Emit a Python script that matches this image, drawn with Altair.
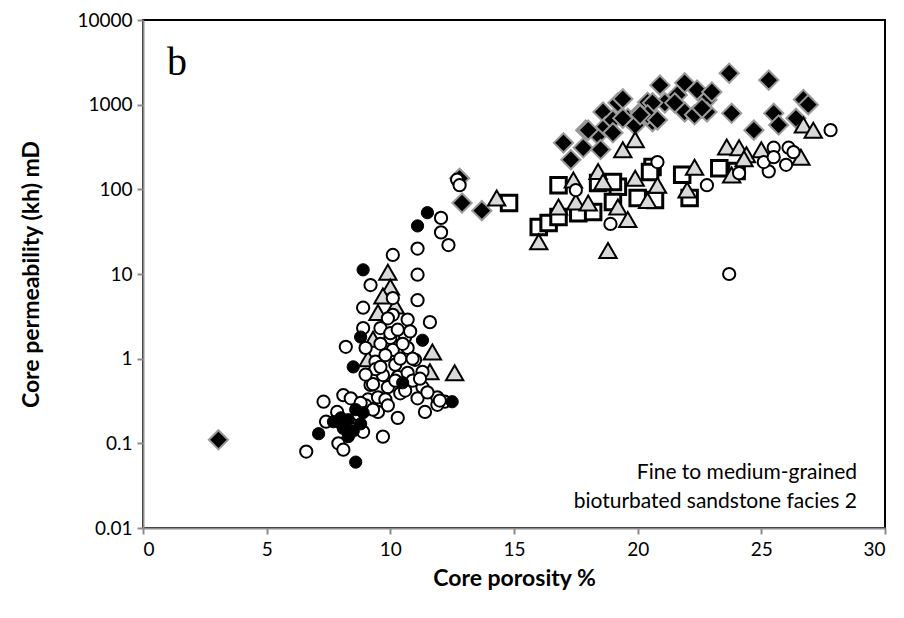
import altair as alt
import pandas as pd

# ---------------- data ----------------
open_por = [10.1, 11.1, 12.35, 12.05, 12.05, 11.1, 9.2, 11.1, 8.9, 10.1, 10.1, 11.6, 10.7, 8.9, 9.6,
            8.2, 9.0, 10.0, 10.6, 10.1, 10.7, 11.0, 9.4, 10.2, 9.7, 10.3, 10.7, 11.3, 9.2, 9.9, 11.3,
            7.3, 8.1, 8.4, 9.1, 9.5, 9.8, 10.4, 11.1, 11.9, 12.2, 11.4, 11.9, 10.3, 9.5, 7.4, 7.85,
            8.0, 8.9, 7.9, 8.1, 9.7, 6.6, 9.6, 10.4, 9.4, 10.9, 10.6, 9.0, 8.7, 9.3, 10.0, 9.8,
            11.5, 12.0, 8.4, 9.9, 10.5, 9.9, 10.3, 9.6, 10.2, 10.8, 9.3, 8.8, 10.9, 11.2, 9.0,
            12.7, 12.8, 17.5, 18.9, 20.8, 22.8, 24.1, 25.3, 25.1, 25.5, 25.5, 26.0, 26.1, 26.3,
            27.8, 23.7]
open_k = [16.8, 20, 22, 46, 31, 9.8, 7.4, 4.9, 4.0, 5.2, 3.3, 2.7, 2.9, 2.3, 2.3,
          1.38, 1.34, 1.76, 1.8, 1.27, 1.34, 0.97, 0.92, 0.85, 0.64, 0.61, 0.68, 0.70, 0.49, 0.46, 0.46,
          0.31, 0.37, 0.34, 0.33, 0.35, 0.33, 0.39, 0.34, 0.35, 0.31, 0.235, 0.285, 0.20, 0.235, 0.18, 0.235,
          0.175, 0.137, 0.10, 0.084, 0.12, 0.08, 1.5, 1.0, 0.75, 0.55, 0.42, 0.28, 0.22, 0.25, 2.0, 1.1,
          0.4, 0.32, 0.15, 0.28, 1.5, 3.0, 2.2, 0.8, 0.55, 2.1, 0.5, 0.3, 1.0, 0.58, 0.65,
          130, 112, 98, 39, 210, 112, 155, 163, 210, 310, 240, 195, 310, 275,
          500, 10]

black_por = [8.9, 8.8, 8.5, 11.3, 10.5, 12.5, 7.1, 8.6, 7.7, 8.3, 8.9, 8.8, 8.3, 8.6, 8.1,
             8.0, 8.5, 11.1, 11.5]
black_k = [11.2, 1.8, 0.8, 1.65, 0.52, 0.31, 0.13, 0.06, 0.18, 0.19, 0.23, 0.17, 0.12, 0.25, 0.15,
           0.2, 0.14, 37, 53]

tri_por = [9.9, 10.0, 9.7, 10.2, 9.5, 9.3, 9.1, 11.7, 12.6, 11.6,
           14.3, 16.0, 16.8, 17.4, 17.5, 18.0, 18.4, 18.6, 18.8, 19.2, 19.4, 19.6, 19.9, 19.9,
           20.4, 20.8, 22.3, 22.0, 23.6, 24.1, 24.4, 25.0, 26.6, 26.7, 27.1, 23.8, 24.3]
tri_k = [10.5, 7.0, 5.5, 4.2, 3.5, 1.7, 1.0, 1.2, 0.68, 0.7,
         79, 24, 62, 129, 71, 69, 162, 123, 19, 62, 293, 44, 385, 135,
         74, 112, 182, 98, 316, 309, 257, 293, 240, 575, 500, 148, 230]

sq_por = [14.8, 16.8, 16.0, 16.4, 16.8, 17.6, 18.2, 18.4, 19.2, 19.0, 20.0, 20.6, 20.5, 20.7,
          21.8, 22.1, 23.3, 24.0, 19.0]
sq_k = [69, 112, 36, 40, 47, 52, 54, 119, 107, 71, 79, 183, 160, 75,
        149, 79, 178, 165, 122]

dia_por = [3.05, 12.8, 12.9, 13.7,
           17.0, 17.3, 17.8, 17.9, 18.4, 18.6, 18.7, 18.5, 19.0, 19.2, 19.4, 19.6, 19.9, 20.1,
           20.4, 20.6, 20.9, 21.1, 21.6, 21.9, 22.4, 22.8, 23.0, 20.6, 20.4, 20.8, 21.9, 22.3,
           22.8, 23.8, 23.7, 25.3, 24.7, 25.5, 25.7, 26.4, 26.7, 26.9, 19.0, 18.0, 20.1, 19.4,
           21.5, 22.6]
dia_k = [0.11, 135, 69, 56,
         354, 224, 310, 500, 440, 820, 550, 295, 660, 1050, 1170, 690, 570, 815,
         1070, 630, 1700, 1050, 1300, 1810, 1490, 1140, 1410, 1050, 760, 660, 820, 760,
         820, 790, 2350, 1950, 500, 790, 575, 690, 1150, 1000, 465, 500, 760, 690,
         1050, 910]

x_ticks = [0, 5, 10, 15, 20, 25, 30]
y_ticks = [0.01, 0.1, 1, 10, 100, 1000, 10000]
panel_letter = ["b"]
note_line1 = ["Fine to medium-grained"]
note_line2 = ["bioturbated sandstone facies 2"]

FONT = "Lato"
AXIS_GREY = "#8c8c8c"

x_enc = alt.X("por:Q",
              scale=alt.Scale(domain=[0, 30], nice=False, zero=False),
              axis=alt.Axis(values=x_ticks, grid=False, title="Core porosity %",
                            domainColor=AXIS_GREY, domainWidth=2,
                            tickColor=AXIS_GREY, tickWidth=2, tickSize=6,
                            labelFont=FONT, labelFontSize=19, labelColor="black", labelPadding=6,
                            titleFont=FONT, titleFontSize=23, titleFontWeight="bold",
                            titleColor="black", titlePadding=8))
y_enc = alt.Y("k:Q",
              scale=alt.Scale(type="log", domain=[0.01, 10000], nice=False),
              axis=alt.Axis(values=y_ticks, grid=False, title="Core permeability (kh) mD",
                            labelExpr="'' + datum.value",
                            domainColor=AXIS_GREY, domainWidth=2,
                            tickColor=AXIS_GREY, tickWidth=2, tickSize=6,
                            labelFont=FONT, labelFontSize=19, labelColor="black", labelPadding=5,
                            titleFont=FONT, titleFontSize=23, titleFontWeight="bold",
                            titleColor="black", titlePadding=33))


def series(por, k, shape, size, fill, stroke, sw):
    df = pd.DataFrame({"por": por, "k": k})
    return alt.Chart(df).mark_point(
        shape=shape, size=size, filled=True, fill=fill, stroke=stroke,
        strokeWidth=sw, opacity=1, fillOpacity=1, strokeOpacity=1
    ).encode(x=x_enc, y=y_enc)


diamonds = series(dia_por, dia_k, "diamond", 370, "black", "#9a9a9a", 2)
squares = series(sq_por, sq_k, "square", 240, "white", "black", 3)
triangles = series(tri_por, tri_k, "triangle-up", 300, "#d9d9d9", "black", 2)
opens = series(open_por, open_k, "circle", 150, "white", "black", 2)
blacks = series(black_por, black_k, "circle", 150, "black", "black", 1)


def label(texts, font, size, align, x, y):
    return alt.Chart(pd.DataFrame({"t": texts})).mark_text(
        font=font, fontSize=size, align=align, baseline="alphabetic", color="black"
    ).encode(text="t:N", x=alt.value(x), y=alt.value(y))


letter = label(panel_letter, "Liberation Serif", 40, "left", 24, 55)
note1 = label(note_line1, FONT, 21, "right", 714, 459)
note2 = label(note_line2, FONT, 21, "right", 714, 488)

chart = alt.layer(diamonds, squares, triangles, opens, blacks, letter, note1, note2).properties(
    width=742, height=508,
    autosize=alt.AutoSizeParams(type="none"),
    padding={"left": 143, "top": 20, "right": 19, "bottom": 90},
    background="white",
).configure_view(stroke="black", strokeWidth=2)

chart.save("out.html", embed_options={"renderer": "svg", "actions": False})
